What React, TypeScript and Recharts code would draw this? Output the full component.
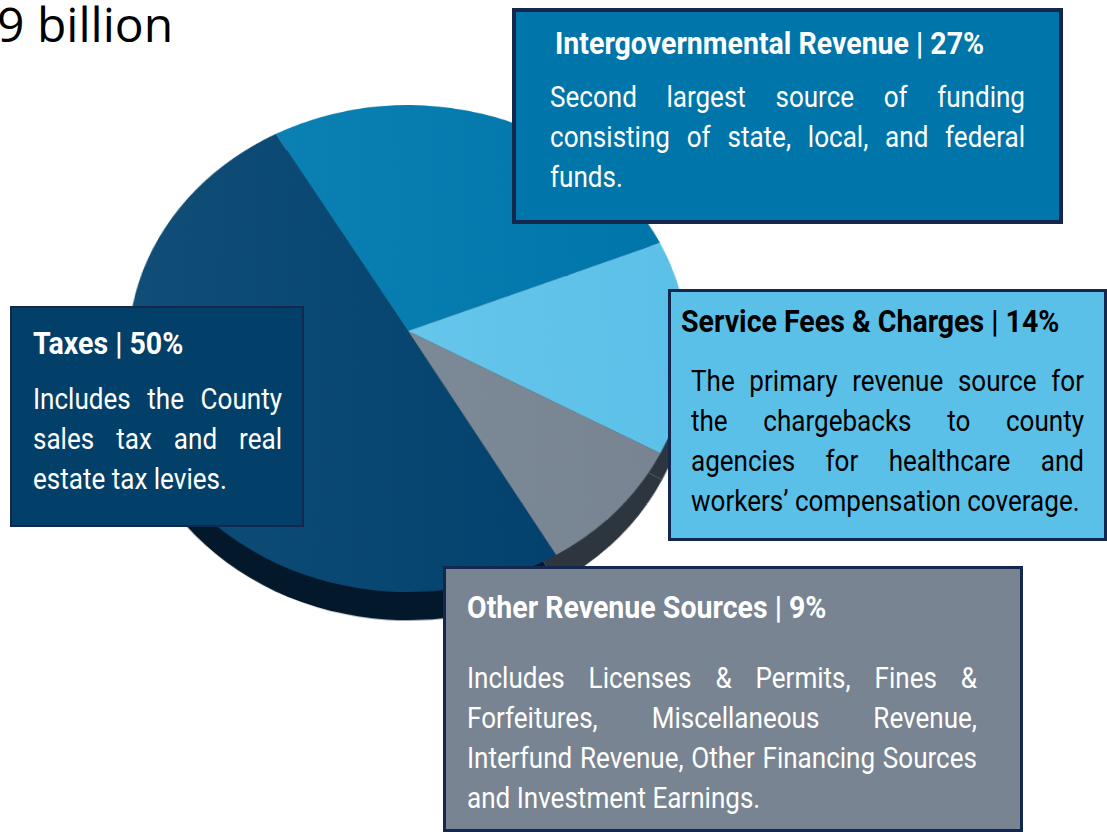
import { PieChart, Pie, Cell } from "recharts";

// Data
const SLICE_NAMES = ["Intergovernmental Revenue", "Service Fees & Charges", "Other Revenue Sources", "Taxes"];
// Printed percentages, and the slice sizes as actually drawn in the picture
const SLICE_LABELS = [27, 14, 9, 50];
const SLICE_SHARES = [27.3, 14.2, 8.6, 49.9];

const TOTAL_LABEL = "9 billion";
const INTERGOV_LINES = ["Second largest source of funding", "consisting of state, local, and federal", "funds."];
const SERVICE_LINES = [
  "The primary revenue source for",
  "the chargebacks to county",
  "agencies for healthcare and",
  "workers’ compensation coverage.",
];
const TAXES_LINES = ["Includes the County", "sales tax and real", "estate tax levies."];
const OTHER_LINES = [
  "Includes Licenses & Permits, Fines &",
  "Forfeitures, Miscellaneous Revenue,",
  "Interfund Revenue, Other Financing Sources",
  "and Investment Earnings.",
];

// Colors
const TOP_FILLS = ["url(#gradIntergov)", "url(#gradService)", "url(#gradOther)", "url(#gradTaxes)"];
const SIDE_FILLS = ["#2d363e", "#2d363e", "#2d363e", "#03182a"];
const COLOR_BORDER = "#14284f";

// Boxes
const boxes = [
  { idx: 0, left: 512, top: 8, w: 551, h: 216, border: 4, fill: "#0075a9", color: "#fff", titleX: 555, titleY: 54, x: 550, bodyW: 475, ys: [107, 147, 187], lines: INTERGOV_LINES, justified: 2 },
  { idx: 1, left: 668, top: 289, w: 439, h: 252, border: 3, fill: "#5bc0e8", color: "#000", titleX: 681, titleY: 332, x: 691, bodyW: 393, ys: [391, 431, 471, 511], lines: SERVICE_LINES, justified: 3 },
  { idx: 3, left: 10, top: 306, w: 294, h: 221, border: 2, fill: "#024069", color: "#fff", titleX: 33, titleY: 354, x: 33, bodyW: 249, ys: [409, 449, 489], lines: TAXES_LINES, justified: 2 },
  { idx: 2, left: 443, top: 566, w: 580, h: 266, border: 3, fill: "#788491", color: "#fff", titleX: 467, titleY: 618, x: 467, bodyW: 510, ys: [688, 728, 768, 808], lines: OTHER_LINES, justified: 3 },
];

const BODY_SCALE = 0.898;
const TITLE_SCALE = 0.92;

// Roboto squeezed horizontally, stands in for Roboto Condensed
function TextLine({ x, baseline, width, text, size, weight, scale, color, justify }: any) {
  return (
    <div
      style={{
        position: "absolute",
        left: x,
        top: baseline - 30,
        width: width ? width / scale : undefined,
        height: 40,
        lineHeight: "40px",
        fontFamily: "Roboto, sans-serif",
        fontSize: size,
        fontWeight: weight,
        color,
        whiteSpace: "nowrap",
        textAlign: justify ? "justify" : "left",
        textAlignLast: justify ? "justify" : "left",
        transform: `scaleX(${scale})`,
        transformOrigin: "left center",
      }}
    >
      {text}
    </div>
  );
}

export default function App() {
  const data = SLICE_NAMES.map((name, i) => ({ name, share: SLICE_SHARES[i] }));

  return (
    <div style={{ position: "absolute", left: 0, top: 0, width: 1107, height: 832, overflow: "hidden", background: "#fff" }}>
      <div
        style={{
          position: "absolute",
          left: -3,
          top: -9,
          fontFamily: "'Open Sans', sans-serif",
          fontSize: 48,
          lineHeight: "65px",
          color: "#000",
          whiteSpace: "nowrap",
        }}
      >
        {TOTAL_LABEL}
      </div>

      {/* Tilted pie, perspective keeps the apex above the middle of the ellipse */}
      <div
        style={{
          position: "absolute",
          left: 88,
          top: 11,
          width: 640,
          height: 700,
          transformOrigin: "320px 320px",
          transform: "matrix3d(1,0,0,0, 0,0.868,0,-0.0002577, 0,0,1,0, 0,0,0,1)",
        }}
      >
        <PieChart width={640} height={700} margin={{ top: 0, right: 0, bottom: 0, left: 0 }}>
          <defs>
            <linearGradient id="gradTaxes" x1="0" y1="0" x2="1" y2="0">
              <stop offset="0%" stopColor="#104e77" />
              <stop offset="100%" stopColor="#03426e" />
            </linearGradient>
            <linearGradient id="gradIntergov" x1="0" y1="0" x2="1" y2="0">
              <stop offset="0%" stopColor="#0a80b3" />
              <stop offset="100%" stopColor="#0075a9" />
            </linearGradient>
            <linearGradient id="gradService" x1="0" y1="0" x2="1" y2="0">
              <stop offset="0%" stopColor="#66c5eb" />
              <stop offset="100%" stopColor="#5bc0e8" />
            </linearGradient>
            <linearGradient id="gradOther" x1="0" y1="0" x2="1" y2="0">
              <stop offset="0%" stopColor="#7c8996" />
              <stop offset="100%" stopColor="#788491" />
            </linearGradient>
          </defs>
          {/* Side wall */}
          <Pie
            data={data}
            dataKey="share"
            nameKey="name"
            cx={320}
            cy={348}
            outerRadius={279}
            startAngle={120.2}
            endAngle={-239.8}
            stroke="none"
            isAnimationActive={false}
          >
            {data.map((d, i) => (
              <Cell key={d.name} fill={SIDE_FILLS[i]} />
            ))}
          </Pie>
          {/* Top face */}
          <Pie
            data={data}
            dataKey="share"
            nameKey="name"
            cx={320}
            cy={320}
            outerRadius={279}
            startAngle={120.2}
            endAngle={-239.8}
            stroke="none"
            isAnimationActive={false}
          >
            {data.map((d, i) => (
              <Cell key={d.name} fill={TOP_FILLS[i]} />
            ))}
          </Pie>
        </PieChart>
      </div>

      {boxes.map((b) => (
        <div key={b.idx}>
          <div
            style={{
              position: "absolute",
              left: b.left,
              top: b.top,
              width: b.w,
              height: b.h,
              boxSizing: "border-box",
              background: b.fill,
              border: `${b.border}px solid ${COLOR_BORDER}`,
            }}
          />
          <TextLine
            x={b.titleX}
            baseline={b.titleY}
            text={`${SLICE_NAMES[b.idx]} | ${SLICE_LABELS[b.idx]}%`}
            size={31}
            weight={700}
            scale={TITLE_SCALE}
            color={b.color}
          />
          {b.lines.map((line, i) => (
            <TextLine
              key={line}
              x={b.x}
              baseline={b.ys[i]}
              width={i < b.justified ? b.bodyW : undefined}
              text={line}
              size={29}
              weight={400}
              scale={BODY_SCALE}
              color={b.color}
              justify={i < b.justified}
            />
          ))}
        </div>
      ))}
    </div>
  );
}
